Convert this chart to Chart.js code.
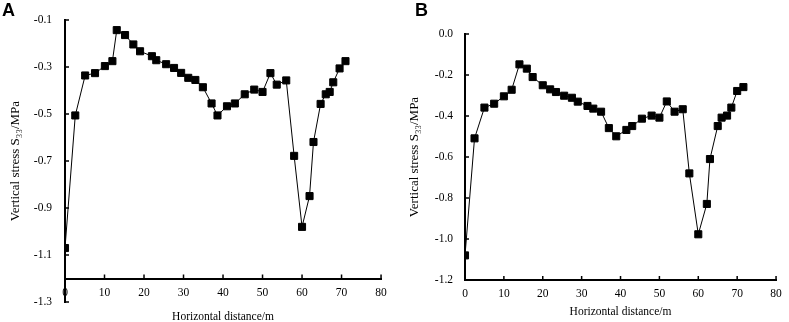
<!DOCTYPE html>
<html>
<head>
<meta charset="utf-8">
<script src="https://cdn.jsdelivr.net/npm/chart.js@4"></script>
<style>
  html, body { margin: 0; padding: 0; background: #fff; }
  #wrap { position: relative; width: 789px; height: 322px; overflow: hidden; }
  .panel { position: absolute; top: 0; width: 394px; height: 322px; }
  .letter { position: absolute; font-family: "Liberation Sans", Arial, sans-serif; font-weight: bold; font-size: 18px; line-height: 18px; color: #000; }
</style>
</head>
<body>
<div id="wrap">
  <div class="panel" style="left:0"><canvas id="cA" width="394" height="322"></canvas></div>
  <div class="panel" style="left:395px"><canvas id="cB" width="394" height="322"></canvas></div>
  <div class="letter" style="left:2px; top:1px;">A</div>
  <div class="letter" style="left:415px; top:1px;">B</div>
</div>
<script>
// ---- data ----
const xTicks = [0, 10, 20, 30, 40, 50, 60, 70, 80];
const yTicksA = [-1.3, -1.1, -0.9, -0.7, -0.5, -0.3, -0.1];
const yTicksB = [-1.2, -1.0, -0.8, -0.6, -0.4, -0.2, 0.0];

const distanceA = [0, 2.6, 5.1, 7.6, 10.1, 12.0, 13.1, 15.2, 17.3, 19.0, 22.0, 23.1, 25.6, 27.6, 29.4, 31.2, 33.0, 34.9, 37.1, 38.6, 41.0, 43.0, 45.5, 47.9, 50.0, 52.0, 53.6, 56.0, 58.0, 60.0, 61.9, 62.9, 64.7, 66.0, 67.0, 67.9, 69.5, 71.0];
const stressA = [-1.07, -0.506, -0.336, -0.326, -0.296, -0.275, -0.143, -0.164, -0.204, -0.233, -0.254, -0.271, -0.288, -0.304, -0.325, -0.346, -0.355, -0.386, -0.455, -0.506, -0.467, -0.455, -0.416, -0.396, -0.406, -0.326, -0.375, -0.357, -0.678, -0.98, -0.849, -0.619, -0.457, -0.416, -0.406, -0.365, -0.306, -0.275];

const distanceB = [0, 2.45, 5.0, 7.5, 10.0, 12.0, 14.0, 15.9, 17.4, 20.0, 21.9, 23.4, 25.5, 27.5, 29.0, 31.5, 33.0, 35.0, 37.0, 38.9, 41.5, 43.0, 45.5, 48.0, 50.0, 51.9, 53.9, 56.0, 57.7, 60.0, 62.2, 63.0, 65.0, 66.0, 67.4, 68.5, 70.0, 71.6];
const stressB = [-1.08, -0.509, -0.359, -0.34, -0.304, -0.272, -0.148, -0.169, -0.21, -0.25, -0.27, -0.283, -0.301, -0.311, -0.33, -0.351, -0.364, -0.379, -0.459, -0.499, -0.468, -0.449, -0.413, -0.398, -0.408, -0.329, -0.379, -0.367, -0.68, -0.977, -0.829, -0.61, -0.449, -0.408, -0.398, -0.359, -0.278, -0.259];

const xTitle = 'Horizontal distance/m';
const yTitle = 'Vertical stress S\u2083\u2083/MPa';
const xCross = -1.2;

// ---- styling / building ----
const SERIF = '"Liberation Serif", "Times New Roman", serif';

const innerTicks = {
  id: 'innerTicks',
  afterDraw(chart) {
    const ctx = chart.ctx, xs = chart.scales.x, ys = chart.scales.y;
    const axY = ys.getPixelForValue(xCross);
    const axX = xs.getPixelForValue(0);
    ctx.save();
    ctx.strokeStyle = '#000';
    ctx.lineWidth = 1.5;
    ctx.beginPath();
    xs.ticks.forEach(t => {
      const px = xs.getPixelForValue(t.value);
      ctx.moveTo(px, axY); ctx.lineTo(px, axY - 4);
    });
    ys.ticks.forEach(t => {
      const py = ys.getPixelForValue(t.value);
      ctx.moveTo(axX, py); ctx.lineTo(axX + 4, py);
    });
    ctx.stroke();
    ctx.restore();
  }
};

function makeChart(id, xs, ys, yTicks, cfg) {
  const pts = xs.map((x, i) => ({ x: x, y: ys[i] }));
  return new Chart(document.getElementById(id), {
    type: 'line',
    data: { datasets: [{
      data: pts,
      borderColor: '#000',
      borderWidth: 1,
      pointStyle: 'rect',
      pointRadius: 5,
      pointBackgroundColor: '#000',
      pointBorderColor: '#000',
      pointBorderWidth: 1,
      tension: 0
    }]},
    options: {
      responsive: false,
      animation: false,
      devicePixelRatio: 1,
      layout: { padding: cfg.padding },
      plugins: { legend: { display: false }, tooltip: { enabled: false } },
      scales: {
        x: {
          type: 'linear',
          position: cfg.xPosition,
          min: 0, max: 80,
          afterBuildTicks: s => { s.ticks = xTicks.map(v => ({ value: v })); },
          afterFit: s => { s.height = cfg.xHeight; },
          grid: { display: true, drawOnChartArea: false, drawTicks: false },
          border: { display: true, color: '#000', width: 2 },
          ticks: { color: '#000', font: { family: SERIF, size: 11.5 }, padding: 7.2, maxRotation: 0,
                   callback: v => String(v) },
          title: { display: true, text: xTitle, color: '#000', font: { family: SERIF, size: 11.5 },
                   padding: { top: 0, bottom: cfg.xTitlePad } }
        },
        y: {
          type: 'linear',
          position: 'left',
          min: yTicks[0], max: yTicks[yTicks.length - 1],
          afterBuildTicks: s => { s.ticks = yTicks.map(v => ({ value: v })); },
          afterFit: s => { s.width = cfg.yWidth; },
          grid: { display: true, drawOnChartArea: false, drawTicks: false },
          border: { display: true, color: '#000', width: 2 },
          ticks: { color: '#000', font: { family: SERIF, size: 11.5 }, padding: cfg.yLabelPad,
                   callback: v => Number(v).toFixed(1) },
          title: { display: true, text: yTitle, color: '#000', font: { family: SERIF, size: 13 },
                   padding: { top: cfg.yTitlePad, bottom: 0 } }
        }
      }
    },
    plugins: [innerTicks]
  });
}

makeChart('cA', distanceA, stressA, yTicksA, {
  padding: { left: 0, right: 10, top: 20, bottom: 0 },
  xPosition: { y: xCross },
  xHeight: 25, xTitlePad: -20.7,
  yWidth: 65, yLabelPad: 13, yTitlePad: 8.2
});
makeChart('cB', distanceB, stressB, yTicksB, {
  padding: { left: 0, right: 7, top: 34, bottom: 0 },
  xPosition: 'bottom',
  xHeight: 42, xTitlePad: 3.4,
  yWidth: 70, yLabelPad: 12, yTitlePad: 12.2
});
</script>
</body>
</html>
